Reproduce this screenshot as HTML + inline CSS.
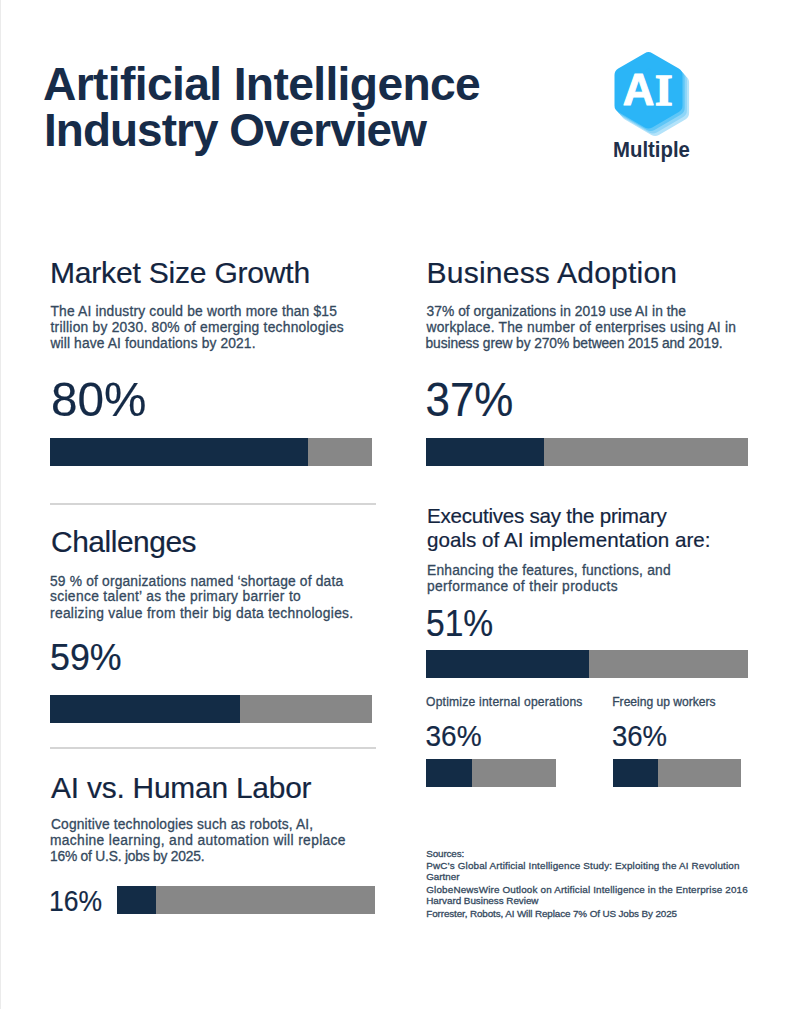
<!DOCTYPE html>
<html lang="en"><head><meta charset="utf-8"><title>Artificial Intelligence Industry Overview</title>
<style>
html,body{margin:0;padding:0;background:#fff}
body{width:800px;height:1009px;position:relative;overflow:hidden;font-family:"Liberation Sans",Arial,sans-serif}
.edge{position:absolute;left:0;top:0;width:1px;height:1009px;background:#ebebeb}
.bar{position:absolute;background:#878787}
.bar i{position:absolute;left:0;top:0;bottom:0;background:#132c46}
.sep{position:absolute;height:2px;background:#d5d5d5}
svg.txt{position:absolute;left:0;top:0}
svg.txt text{font-family:"Liberation Sans",Arial,sans-serif}
svg.txt text.b{stroke:#34495e;stroke-width:.3px}
svg.txt text.h{stroke:#14253f;stroke-width:.2px}
</style></head>
<body>
<div class="edge"></div>
<div class="bar" style="left:50px;top:438px;width:322px;height:28px"><i style="width:258px"></i></div>
<div class="bar" style="left:426px;top:438px;width:322px;height:28px"><i style="width:118px"></i></div>
<div class="bar" style="left:50px;top:695px;width:322px;height:28px"><i style="width:190px"></i></div>
<div class="bar" style="left:426px;top:650px;width:322px;height:28px"><i style="width:163px"></i></div>
<div class="bar" style="left:426px;top:759px;width:130px;height:28px"><i style="width:46px"></i></div>
<div class="bar" style="left:613px;top:759px;width:128px;height:28px"><i style="width:45px"></i></div>
<div class="bar" style="left:117px;top:886px;width:258px;height:28px"><i style="width:39px"></i></div>
<div class="sep" style="left:50px;top:503px;width:326px"></div>
<div class="sep" style="left:50px;top:747px;width:326px"></div>
<svg class="logo" style="position:absolute;left:600px;top:40px" width="100" height="105" viewBox="600 40 100 105">
<g stroke-linejoin="round" stroke-width="15">
<polygon transform="translate(6.6,7.5)" points="648.5,59.7 675.0,75.0 675.0,105.6 648.5,120.9 622.0,105.6 622.0,75.0" fill="#b4e3fa" stroke="#b4e3fa"/>
<polygon transform="translate(4.4,5.0)" points="648.5,59.7 675.0,75.0 675.0,105.6 648.5,120.9 622.0,105.6 622.0,75.0" fill="#8dd5f8" stroke="#8dd5f8"/>
<polygon transform="translate(2.2,2.5)" points="648.5,59.7 675.0,75.0 675.0,105.6 648.5,120.9 622.0,105.6 622.0,75.0" fill="#5ec6f7" stroke="#5ec6f7"/>
<polygon points="648.5,59.7 675.0,75.0 675.0,105.6 648.5,120.9 622.0,105.6 622.0,75.0" fill="#2bb5f7" stroke="#2bb5f7"/>
</g>
<text x="622.8" y="105.2" font-size="44" font-weight="700" fill="#fff" stroke="#fff" stroke-width="1" stroke-linejoin="round" font-family="Liberation Sans" textLength="31.6" lengthAdjust="spacingAndGlyphs">A</text>
<text x="655" y="104.8" font-size="45" font-weight="700" fill="#fff" stroke="#fff" stroke-width="1.4" font-family="Liberation Serif" textLength="17.6" lengthAdjust="spacingAndGlyphs">I</text>

</svg>
<svg class="txt" width="800" height="1009" viewBox="0 0 800 1009">
<text id="t1" class="t" x="43.00" y="100.00" font-size="46.2" fill="#172c49" font-weight="700" textLength="437.73" lengthAdjust="spacing">Artificial Intelligence</text>
<text id="t2" class="t" x="44.00" y="146.00" font-size="45.9" fill="#172c49" font-weight="700" textLength="382.88" lengthAdjust="spacing">Industry Overview</text>
<text id="hm" class="h" x="50.00" y="283.00" font-size="30.1" fill="#14253f" textLength="260.23" lengthAdjust="spacing">Market Size Growth</text>
<text id="hb" class="h" x="426.50" y="283.00" font-size="30.1" fill="#14253f" textLength="250.62" lengthAdjust="spacing">Business Adoption</text>
<text id="m1" class="b" x="50.50" y="316.00" font-size="13.8" fill="#34495e" textLength="286.41" lengthAdjust="spacing">The AI industry could be worth more than $15</text>
<text id="m2" class="b" x="50.50" y="332.00" font-size="13.8" fill="#34495e" textLength="293.25" lengthAdjust="spacing">trillion by 2030. 80% of emerging technologies</text>
<text id="m3" class="b" x="50.50" y="348.00" font-size="13.8" fill="#34495e" textLength="204.97" lengthAdjust="spacing">will have AI foundations by 2021.</text>
<text id="b1" class="b" x="426.50" y="316.00" font-size="13.8" fill="#34495e" textLength="259.53" lengthAdjust="spacing">37% of organizations in 2019 use AI in the</text>
<text id="b2" class="b" x="426.50" y="332.00" font-size="13.8" fill="#34495e" textLength="309.44" lengthAdjust="spacing">workplace. The number of enterprises using AI in</text>
<text id="b3" class="b" x="425.50" y="348.00" font-size="13.8" fill="#34495e" textLength="297.05" lengthAdjust="spacing">business grew by 270% between 2015 and 2019.</text>
<text id="n80" class="h" x="51.00" y="416.00" font-size="48.6" fill="#142a47" textLength="95.47" lengthAdjust="spacingAndGlyphs">80%</text>
<text id="n37" class="h" x="425.50" y="416.00" font-size="48.9" fill="#142a47" textLength="87.86" lengthAdjust="spacingAndGlyphs">37%</text>
<text id="hc" class="h" x="51.00" y="552.30" font-size="29.9" fill="#14253f" textLength="145.56" lengthAdjust="spacing">Challenges</text>
<text id="c1" class="b" x="50.00" y="585.50" font-size="13.8" fill="#34495e" textLength="293.13" lengthAdjust="spacing">59 % of organizations named ‘shortage of data</text>
<text id="c2" class="b" x="50.00" y="601.30" font-size="13.8" fill="#34495e" textLength="250.80" lengthAdjust="spacing">science talent’ as the primary barrier to</text>
<text id="c3" class="b" x="50.00" y="617.50" font-size="13.8" fill="#34495e" textLength="303.17" lengthAdjust="spacing">realizing value from their big data technologies.</text>
<text id="n59" class="h" x="50.00" y="670.00" font-size="36.2" fill="#142a47" textLength="71.64" lengthAdjust="spacingAndGlyphs">59%</text>
<text id="e1" class="h" x="427.00" y="523.00" font-size="20.6" fill="#14253f" textLength="239.88" lengthAdjust="spacing">Executives say the primary</text>
<text id="e2" class="h" x="427.00" y="547.00" font-size="20.6" fill="#14253f" textLength="283.57" lengthAdjust="spacing">goals of AI implementation are:</text>
<text id="f1" class="b" x="427.00" y="574.80" font-size="13.8" fill="#34495e" textLength="243.68" lengthAdjust="spacing">Enhancing the features, functions, and</text>
<text id="f2" class="b" x="427.00" y="590.80" font-size="13.8" fill="#34495e" textLength="190.62" lengthAdjust="spacing">performance of their products</text>
<text id="n51" class="h" x="426.00" y="636.00" font-size="37.6" fill="#142a47" textLength="67.22" lengthAdjust="spacingAndGlyphs">51%</text>
<text id="op" class="b" x="426.00" y="705.60" font-size="12.1" fill="#34495e" textLength="156.38" lengthAdjust="spacing">Optimize internal operations</text>
<text id="fr" class="b" x="612.25" y="705.60" font-size="12.1" fill="#34495e" textLength="103.32" lengthAdjust="spacing">Freeing up workers</text>
<text id="n36a" class="h" x="425.50" y="745.50" font-size="29.0" fill="#142a47" textLength="56.05" lengthAdjust="spacingAndGlyphs">36%</text>
<text id="n36b" class="h" x="612.00" y="745.50" font-size="29.0" fill="#142a47" textLength="55.05" lengthAdjust="spacingAndGlyphs">36%</text>
<text id="hl" class="h" x="51.00" y="798.20" font-size="29.9" fill="#14253f" textLength="260.56" lengthAdjust="spacing">AI vs. Human Labor</text>
<text id="l1" class="b" x="51.00" y="829.00" font-size="13.8" fill="#34495e" textLength="262.17" lengthAdjust="spacing">Cognitive technologies such as robots, AI,</text>
<text id="l2" class="b" x="50.00" y="845.00" font-size="13.8" fill="#34495e" textLength="295.54" lengthAdjust="spacing">machine learning, and automation will replace</text>
<text id="l3" class="b" x="50.00" y="861.20" font-size="13.8" fill="#34495e" textLength="154.53" lengthAdjust="spacing">16% of U.S. jobs by 2025.</text>
<text id="n16" class="h" x="49.00" y="910.50" font-size="29.0" fill="#142a47" textLength="53.05" lengthAdjust="spacingAndGlyphs">16%</text>
<text id="s0" class="b" x="426.25" y="856.60" font-size="9.9" fill="#34495e" textLength="37.98" lengthAdjust="spacing">Sources:</text>
<text id="s1" class="b" x="426.25" y="868.50" font-size="9.9" fill="#34495e" textLength="313.27" lengthAdjust="spacing">PwC’s Global Artificial Intelligence Study: Exploiting the AI Revolution</text>
<text id="s2" class="b" x="426.25" y="880.25" font-size="9.8" fill="#34495e" textLength="33.22" lengthAdjust="spacing">Gartner</text>
<text id="s3" class="b" x="426.25" y="892.50" font-size="9.9" fill="#34495e" textLength="321.47" lengthAdjust="spacing">GlobeNewsWire Outlook on Artificial Intelligence in the Enterprise 2016</text>
<text id="s4" class="b" x="426.25" y="904.40" font-size="9.9" fill="#34495e" textLength="112.26" lengthAdjust="spacing">Harvard Business Review</text>
<text id="s5" class="b" x="426.25" y="916.50" font-size="9.9" fill="#34495e" textLength="250.81" lengthAdjust="spacing">Forrester, Robots, AI Will Replace 7% Of US Jobs By 2025</text>
<text id="mu" class="t" x="613.00" y="157.30" font-size="21.7" fill="#1f304a" font-weight="700" textLength="76.92" lengthAdjust="spacingAndGlyphs">Multiple</text>
</svg>
</body></html>
